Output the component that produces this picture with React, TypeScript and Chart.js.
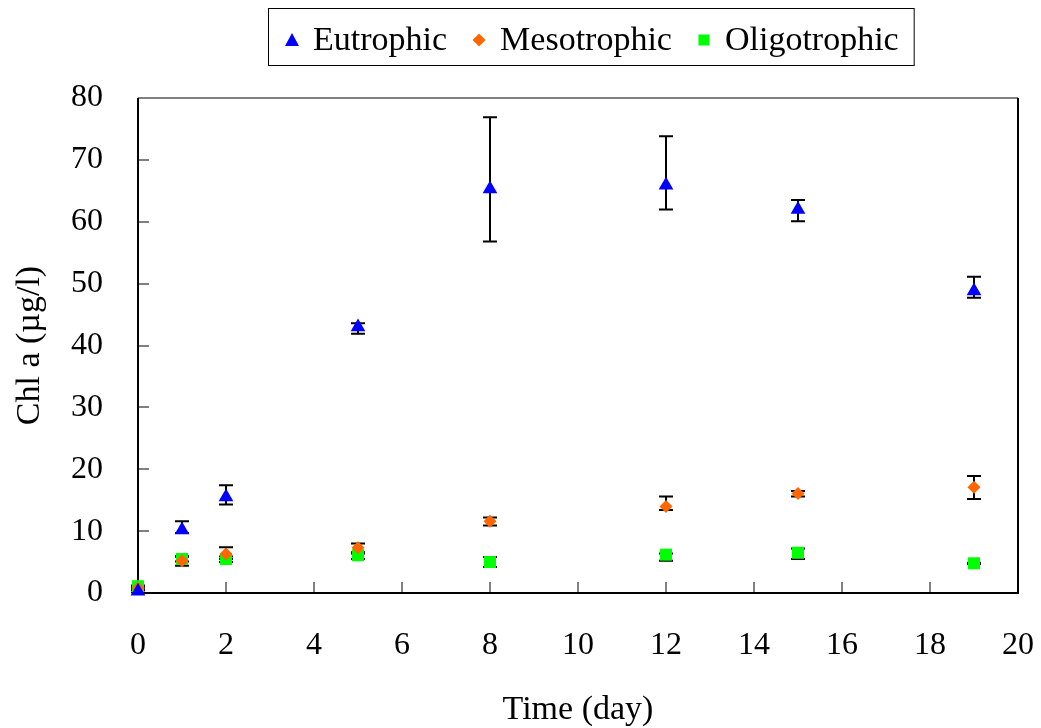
import { useEffect, useRef } from 'react';
import { Chart, registerables } from 'chart.js';

Chart.register(...registerables);

const FONT = "'Liberation Serif', 'Times New Roman', serif";

const days = [0, 1, 2, 5, 8, 12, 15, 19];

const eutrophic = [0.3, 10.2, 15.5, 43.0, 65.3, 65.9, 62.0, 48.8];
const eutrophicUp = [0.2, 1.4, 1.9, 0.6, 11.6, 7.9, 1.5, 2.3];
const eutrophicDown = [0.2, 0.5, 1.2, 1.1, 8.5, 3.9, 1.9, 1.1];

const mesotrophic = [0.8, 5.2, 6.3, 7.3, 11.6, 14.0, 16.1, 17.1];
const mesotrophicUp = [0.2, 0.7, 1.1, 0.7, 0.6, 1.6, 0.4, 1.8];
const mesotrophicDown = [0.2, 0.8, 0.8, 0.7, 0.7, 0.6, 0.5, 1.9];

const oligotrophic = [1.1, 5.5, 5.5, 6.1, 5.0, 6.2, 6.5, 4.8];
const oligotrophicUp = [0.1, 0.4, 0.4, 0.3, 0.8, 0.2, 0.7, 0.1];
const oligotrophicDown = [0.1, 0.4, 0.5, 0.6, 0.8, 1.0, 1.0, 0.1];

const seriesLabels = ['Eutrophic', 'Mesotrophic', 'Oligotrophic'];
const seriesColors = ['#0000FF', '#FF6600', '#00FF00'];

const xTitle = 'Time (day)';
const yTitle = 'Chl a (\u00B5g/l)';

function drawMarker(ctx: CanvasRenderingContext2D, style: string, x: number, y: number, h: number) {
  ctx.beginPath();
  if (style === 'triangle') {
    ctx.moveTo(x, y - h);
    ctx.lineTo(x + h, y + h * 0.85);
    ctx.lineTo(x - h, y + h * 0.85);
  } else if (style === 'rectRot') {
    ctx.moveTo(x, y - h);
    ctx.lineTo(x + h, y);
    ctx.lineTo(x, y + h);
    ctx.lineTo(x - h, y);
  } else {
    ctx.rect(x - h, y - h, 2 * h, 2 * h);
  }
  ctx.closePath();
  ctx.fill();
}

const framePlugin = {
  id: 'frameAndErrors',
  beforeDatasetsDraw(chart: any) {
    const { ctx, chartArea, scales } = chart;
    const { left, right, top, bottom } = chartArea;
    const xs = scales.x;
    const ys = scales.y;
    ctx.save();
    // inward tick marks
    ctx.strokeStyle = '#808080';
    ctx.lineWidth = 2;
    ctx.beginPath();
    xs.ticks.forEach((t: any) => {
      const px = Math.round(xs.getPixelForValue(t.value));
      if (px <= left + 1 || px >= right - 1) return;
      ctx.moveTo(px, bottom);
      ctx.lineTo(px, bottom - 11);
    });
    ys.ticks.forEach((t: any) => {
      const py = Math.round(ys.getPixelForValue(t.value));
      if (py <= top + 1 || py >= bottom - 1) return;
      ctx.moveTo(left, py);
      ctx.lineTo(left + 11, py);
    });
    ctx.stroke();
    // top border (gray)
    ctx.strokeStyle = '#808080';
    ctx.beginPath();
    ctx.moveTo(left, top);
    ctx.lineTo(right, top);
    ctx.stroke();
    // other borders black
    ctx.strokeStyle = '#000000';
    ctx.beginPath();
    ctx.moveTo(right, top);
    ctx.lineTo(right, bottom);
    ctx.moveTo(left, top);
    ctx.lineTo(left, bottom);
    ctx.moveTo(left - 1, bottom);
    ctx.lineTo(right + 1, bottom);
    ctx.stroke();

    // error bars
    ctx.strokeStyle = '#000000';
    ctx.lineWidth = 2;
    chart.data.datasets.forEach((ds: any) => {
      ds.data.forEach((p: any, j: number) => {
        const up = ds.errUp[j];
        const down = ds.errDown[j];
        const px = xs.getPixelForValue(p.x);
        const yt = ys.getPixelForValue(p.y + up);
        const yb = ys.getPixelForValue(p.y - down);
        ctx.beginPath();
        ctx.moveTo(px, yt);
        ctx.lineTo(px, yb);
        ctx.moveTo(px - 7, yt);
        ctx.lineTo(px + 7, yt);
        ctx.moveTo(px - 7, yb);
        ctx.lineTo(px + 7, yb);
        ctx.stroke();
      });
    });
    ctx.restore();
  },
  afterDraw(chart: any) {
    const ctx = chart.ctx as CanvasRenderingContext2D;
    ctx.save();
    ctx.font = `34px ${FONT}`;
    ctx.textBaseline = 'alphabetic';
    ctx.textAlign = 'left';
    const boxL = 268;
    const boxT = 8;
    const boxB = 65;
    const markerY = 40;
    const textY = 50;
    const sizes = [7, 6.5, 5.5];
    let x = boxL + 18;
    chart.data.datasets.forEach((ds: any, i: number) => {
      ctx.fillStyle = ds.backgroundColor;
      drawMarker(ctx, ds.pointStyle, x + 6, markerY, sizes[i]);
      x += 27;
      ctx.fillStyle = '#000000';
      ctx.fillText(ds.label, x, textY);
      x += ctx.measureText(ds.label).width;
      if (i < chart.data.datasets.length - 1) x += 26;
    });
    const boxR = x + 15;
    ctx.strokeStyle = '#000000';
    ctx.lineWidth = 1;
    ctx.strokeRect(boxL + 0.5, boxT + 0.5, boxR - boxL, boxB - boxT);
    ctx.restore();
  },
};

export default function App() {
  const ref = useRef<HTMLCanvasElement>(null);

  useEffect(() => {
    if (!ref.current) return;
    Chart.defaults.font.family = FONT;
    const makeSet = (label: string, vals: number[], up: number[], down: number[], color: string, style: string, radius: number) => ({
      label,
      data: days.map((d, i) => ({ x: d, y: vals[i] })),
      errUp: up,
      errDown: down,
      backgroundColor: color,
      borderColor: color,
      borderWidth: 0,
      pointStyle: style,
      pointRadius: radius,
      pointHoverRadius: radius,
      showLine: false,
      clip: false,
    });
    const chart = new Chart(ref.current, {
      type: 'scatter',
      data: {
        datasets: [
          makeSet(seriesLabels[0], eutrophic, eutrophicUp, eutrophicDown, seriesColors[0], 'triangle', 8.5),
          makeSet(seriesLabels[1], mesotrophic, mesotrophicUp, mesotrophicDown, seriesColors[1], 'rectRot', 6.5),
          makeSet(seriesLabels[2], oligotrophic, oligotrophicUp, oligotrophicDown, seriesColors[2], 'rect', 8.5),
        ] as any,
      },
      options: {
        animation: false,
        responsive: false,
        events: [],
        layout: { padding: { top: 98, right: 23, left: 0, bottom: 0 } },
        plugins: {
          legend: { display: false },
          tooltip: { enabled: false },
        },
        scales: {
          x: {
            type: 'linear',
            min: 0,
            max: 20,
            grid: { display: false, drawTicks: false },
            border: { display: false },
            ticks: {
              stepSize: 2,
              color: '#000000',
              padding: 33,
              font: { size: 32, family: FONT },
              maxRotation: 0,
            },
            title: {
              display: true,
              text: xTitle,
              color: '#000000',
              font: { size: 34, family: FONT, lineHeight: 1 },
              padding: { top: 0, bottom: 1 },
            },
            afterFit: (s: any) => {
              s.height = 135;
              s.paddingLeft = 0;
              s.paddingRight = 0;
            },
          },
          y: {
            type: 'linear',
            min: 0,
            max: 80,
            grid: { display: false, drawTicks: false },
            border: { display: false },
            ticks: {
              stepSize: 10,
              color: '#000000',
              padding: 35,
              font: { size: 32, family: FONT },
            },
            title: {
              display: true,
              text: yTitle,
              color: '#000000',
              font: { size: 34, family: FONT, lineHeight: 1 },
              padding: { top: 13, bottom: 0 },
            },
            afterFit: (s: any) => {
              s.width = 138;
            },
          },
        },
      },
      plugins: [framePlugin],
    });
    return () => chart.destroy();
  }, []);

  return (
    <div style={{ position: 'fixed', left: 0, top: 0, width: 1041, height: 728, background: '#ffffff' }}>
      <canvas ref={ref} width={1041} height={728} style={{ display: 'block' }} />
    </div>
  );
}
